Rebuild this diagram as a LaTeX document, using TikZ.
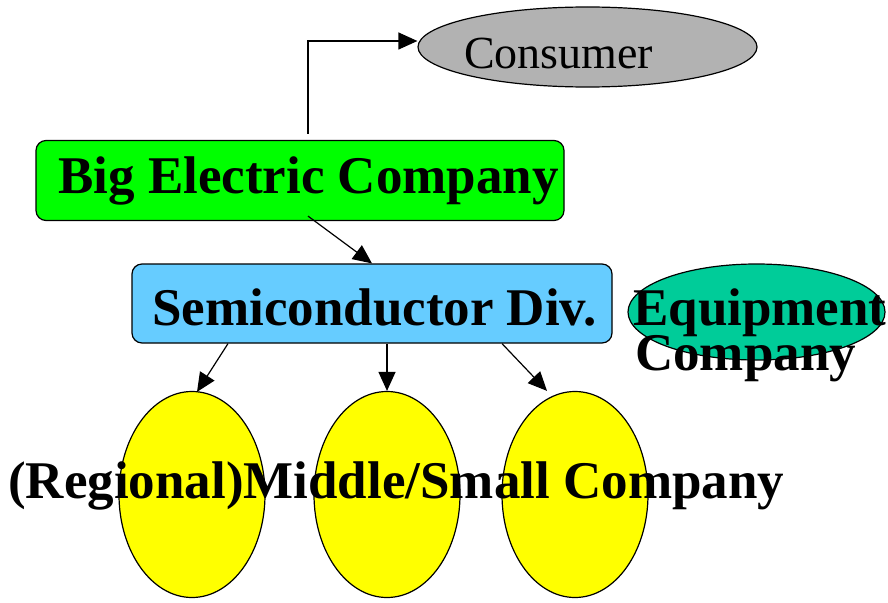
\documentclass[tikz,border=0pt]{standalone}
\usepackage{fontspec}
\setmainfont{Liberation Serif}
\usetikzlibrary{arrows.meta,shapes.geometric}
\definecolor{bigG}{HTML}{00FF00}
\definecolor{semiB}{HTML}{66CCFF}
\definecolor{consG}{HTML}{B2B2B2}
\definecolor{equipT}{HTML}{00CC99}
\definecolor{yel}{HTML}{FFFF00}
\begin{document}
\begin{tikzpicture}[x=1pt,y=-1pt,
  box/.style={draw,line width=1.2pt,rounded corners=10pt,inner sep=0pt},
  oval/.style={draw,ellipse,line width=1.2pt,inner sep=0pt},
  bigtext/.style={font=\fontsize{53}{60}\selectfont\bfseries,inner sep=0pt,anchor=base west},
  arr/.style={line width=1.2pt,-{Triangle[length=19pt,width=17pt]}}]
\useasboundingbox (0,0) rectangle (888,602);
% shapes
\node[box,fill=bigG,minimum width=528pt,minimum height=80pt] (big) at (300,180.5) {};
\node[box,fill=semiB,minimum width=480pt,minimum height=79pt] (semi) at (372,303.5) {};
\node[oval,fill=consG,minimum width=339pt,minimum height=80pt] (cons) at (587.5,47) {};
\node[oval,fill=equipT,minimum width=257pt,minimum height=96pt] (equip) at (756.5,312) {};
\node[oval,fill=yel,minimum width=146pt,minimum height=206pt] (e1) at (192,494.5) {};
\node[oval,fill=yel,minimum width=146pt,minimum height=206pt] (e2) at (387,494.5) {};
\node[oval,fill=yel,minimum width=146pt,minimum height=206pt] (e3) at (575,494.5) {};
% connectors
\draw[arr] ([xshift=8pt,yshift=6pt]big.north) |- ([yshift=6pt]cons.west);
\draw[arr] ([xshift=8pt,yshift=5pt]big.south) -- (semi.north);
\draw[arr] ([xshift=-144pt]semi.south) -- ([xshift=5pt,yshift=-1pt]e1.north);
\draw[arr] ([xshift=15pt]semi.south) -- (e2.north);
\draw[arr] ([xshift=130pt]semi.south) -- ([xshift=-28pt]e3.north);
% texts
\node[bigtext] (tbig) at (58,193.5) {Big Electric Company};
\node[bigtext] (tsemi) at (152,325) {Semiconductor Div.};
\node[font=\fontsize{46}{50}\selectfont,inner sep=0pt,anchor=base west] (tcons) at (464,68) {Consumer};
\node[bigtext] (teq1) at (633,325) {Equipment};
\node[bigtext] (teq2) at (635,370) {Company};
\node[bigtext] (tbot) at (8,498) {(Regional)Middle/Small Company};
\end{tikzpicture}
\end{document}
